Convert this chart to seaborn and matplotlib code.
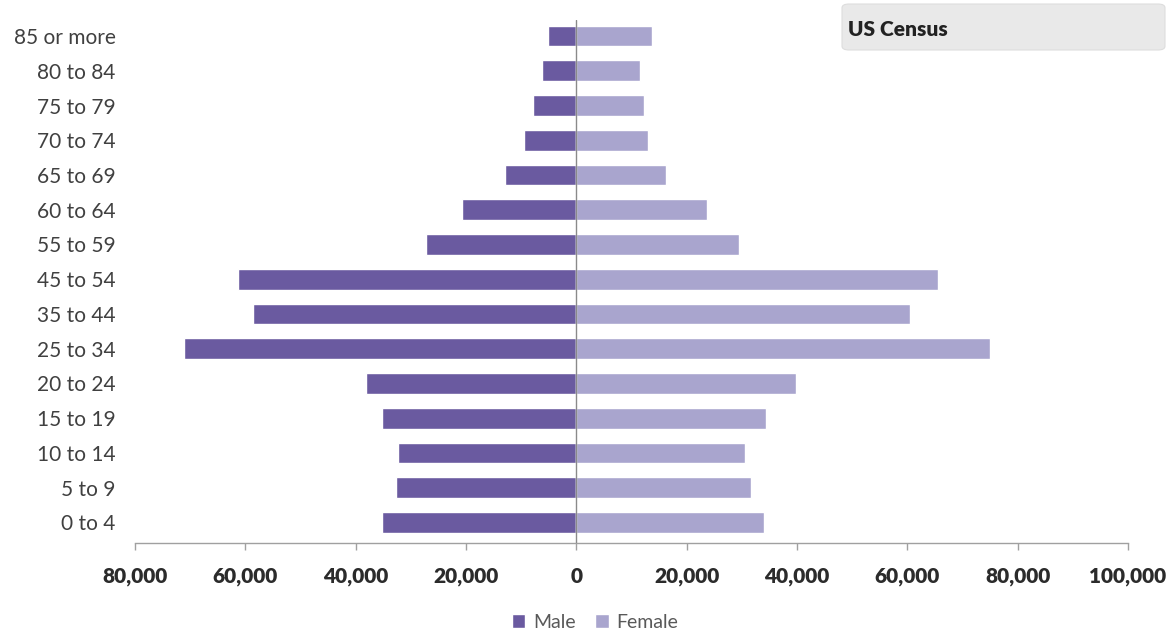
import matplotlib
matplotlib.use("Agg")
import matplotlib.pyplot as plt
from matplotlib.patches import FancyBboxPatch, Patch
import seaborn as sns
import pandas as pd

categories = ['85 or more', '80 to 84', '75 to 79', '70 to 74', '65 to 69',
              '60 to 64', '55 to 59', '45 to 54', '35 to 44', '25 to 34',
              '20 to 24', '15 to 19', '10 to 14', '5 to 9', '0 to 4']
male = [5100, 6200, 7800, 9400, 12900, 20800, 27200, 61300, 58700, 71200,
        38100, 35200, 32300, 32600, 35300]
female = [13700, 11600, 12300, 13000, 16200, 23600, 29400, 65600, 60500, 75000,
          39900, 34300, 30600, 31600, 34100]
series = ['Male', 'Female']
x_ticks = [-80000, -60000, -40000, -20000, 0, 20000, 40000, 60000, 80000, 100000]
x_tick_labels = ['80,000', '60,000', '40,000', '20,000', '0', '20,000',
                 '40,000', '60,000', '80,000', '100,000']
title = 'US Census'

MALE_C = '#6a5aa0'
FEMALE_C = '#a9a5ce'

sns.set_theme(style='white')
plt.rcParams['font.family'] = ['Lato', 'DejaVu Sans']

df = pd.DataFrame({
    'age': categories * 2,
    'value': [-v for v in male] + female,
    'sex': ['Male'] * len(categories) + ['Female'] * len(categories),
})

fig = plt.figure(figsize=(11.71, 6.36), dpi=100)
ax = fig.add_axes([135 / 1171, 1 - 543 / 636, (1128 - 135) / 1171, (543 - 20) / 636])

sns.barplot(data=df, x='value', y='age', hue='sex', order=categories,
            hue_order=series, palette=[MALE_C, FEMALE_C], dodge=False,
            width=0.6, orient='h', ax=ax, legend=False, saturation=1)

ax.set_xlim(-80000, 100000)
ax.set_ylim(14 + (543 - 522.5) / 34.75, -(36 - 20) / 34.75)
ax.set_xticks(x_ticks, labels=x_tick_labels, fontweight='heavy', color='#2b2b2b')
ax.set_xlabel('')
ax.set_ylabel('')

for s in ['top', 'right', 'left']:
    ax.spines[s].set_visible(False)
ax.spines['bottom'].set_color('#a0a0a0')
ax.spines['bottom'].set_linewidth(1.0)
ax.axvline(0, color='#8a8a8a', lw=1.0, zorder=3)

ax.tick_params(axis='x', bottom=True, length=5, width=1, color='#a0a0a0',
               pad=12, labelsize=15)
ax.tick_params(axis='y', left=False, pad=8, labelsize=15, labelcolor='#404040')

# Title box
box = FancyBboxPatch((842 / 1171, 1 - 50 / 636), (1165 - 842) / 1171, (50 - 4) / 636,
                     boxstyle='round,pad=0,rounding_size=0.006',
                     transform=fig.transFigure, facecolor='#e9e9e9',
                     edgecolor='#dddddd', lw=0.8, zorder=0)
fig.patches.append(box)
fig.text(848 / 1171, 1 - 29 / 636, title, ha='left', va='center',
         fontsize=15, fontweight='heavy', color='#222222')

handles = [Patch(facecolor=MALE_C), Patch(facecolor=FEMALE_C)]
fig.legend(handles, series, loc='center', bbox_to_anchor=(595 / 1171, 1 - 622 / 636),
           ncol=2, frameon=False, fontsize=14, handlelength=0.7, handleheight=0.7,
           handletextpad=0.4, columnspacing=1.0, labelcolor='#595959')

fig.savefig('out.png', dpi=100)
